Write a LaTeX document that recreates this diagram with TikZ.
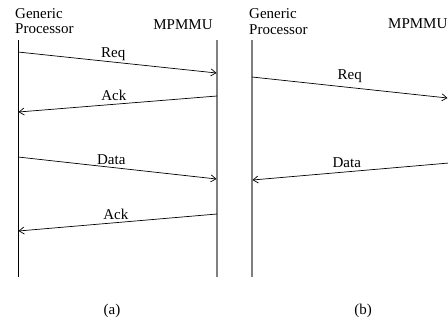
\documentclass[tikz,border=0pt]{standalone}
\usepackage{fontspec}
\setmainfont{Liberation Serif}
\usetikzlibrary{arrows.meta}
\begin{document}
\begin{tikzpicture}[x=1pt,y=-1pt,
  lbl/.style={font=\fontsize{15}{15.5}\selectfont, inner sep=0pt},
  msg/.style={line width=0.7pt, -{Straight Barb[length=5pt,width=7pt]}},
  procline/.style={line width=0.9pt, black},
  memline/.style={line width=1.5pt, gray},
  arrlbl/.style={lbl, anchor=south, inner sep=1pt}]
\useasboundingbox (0,0) rectangle (448,322);
\clip (0,0) rectangle (448,322);
% ---------- (a) ----------
\node[lbl, anchor=base west, align=left] (gpa) at (15,33.5) {Generic\\Processor};
\node[lbl, anchor=base] (mma) at (183,29.5) {MPMMU};
\coordinate (pa-top) at (18,40);
\coordinate (pa-bot) at (18,277);
\coordinate (ma-top) at (217,40);
\coordinate (ma-bot) at (217,277);
\draw[procline] (pa-top) -- (pa-bot);
\draw[memline] (ma-top) -- (ma-bot);
\coordinate (a1s) at (18,52);   \coordinate (a1e) at (216.5,73);
\coordinate (a2s) at (217,96);  \coordinate (a2e) at (18.5,112);
\coordinate (a3s) at (18,157);  \coordinate (a3e) at (216.5,179);
\coordinate (a4s) at (217,214); \coordinate (a4e) at (18.5,231);
\draw[msg] (a1s) -- node[arrlbl, pos=0.48] (reqa) {Req} (a1e);
\draw[msg] (a2s) -- node[arrlbl, pos=0.52, yshift=2pt] (acka) {Ack} (a2e);
\draw[msg] (a3s) -- node[arrlbl, pos=0.47, yshift=1pt] (dataa) {Data} (a3e);
\draw[msg] (a4s) -- node[arrlbl, pos=0.51, yshift=1.5pt] (ackb) {Ack} (a4e);
\node[lbl, anchor=base] (capa) at (112,314) {(a)};
% ---------- (b) ----------
\node[lbl, anchor=base west, align=left] (gpb) at (249,34) {Generic\\Processor};
\node[lbl, anchor=base west] (mmb) at (388,28.5) {MPMMU};
\coordinate (pb-top) at (252,40);
\coordinate (pb-bot) at (252,277);
\draw[memline] (pb-top) -- (pb-bot);
\coordinate (b1s) at (252,77);  \coordinate (b1e) at (447.5,98);
\coordinate (b2s) at (449,163); \coordinate (b2e) at (252.5,180);
\draw[msg] (b1s) -- node[arrlbl, pos=0.5, yshift=3pt] (reqb) {Req} (b1e);
\draw[msg] (b2s) -- node[arrlbl, pos=0.52, yshift=3pt] (datab) {Data} (b2e);
\node[lbl, anchor=base] (capb) at (363,314) {(b)};
\end{tikzpicture}
\end{document}
